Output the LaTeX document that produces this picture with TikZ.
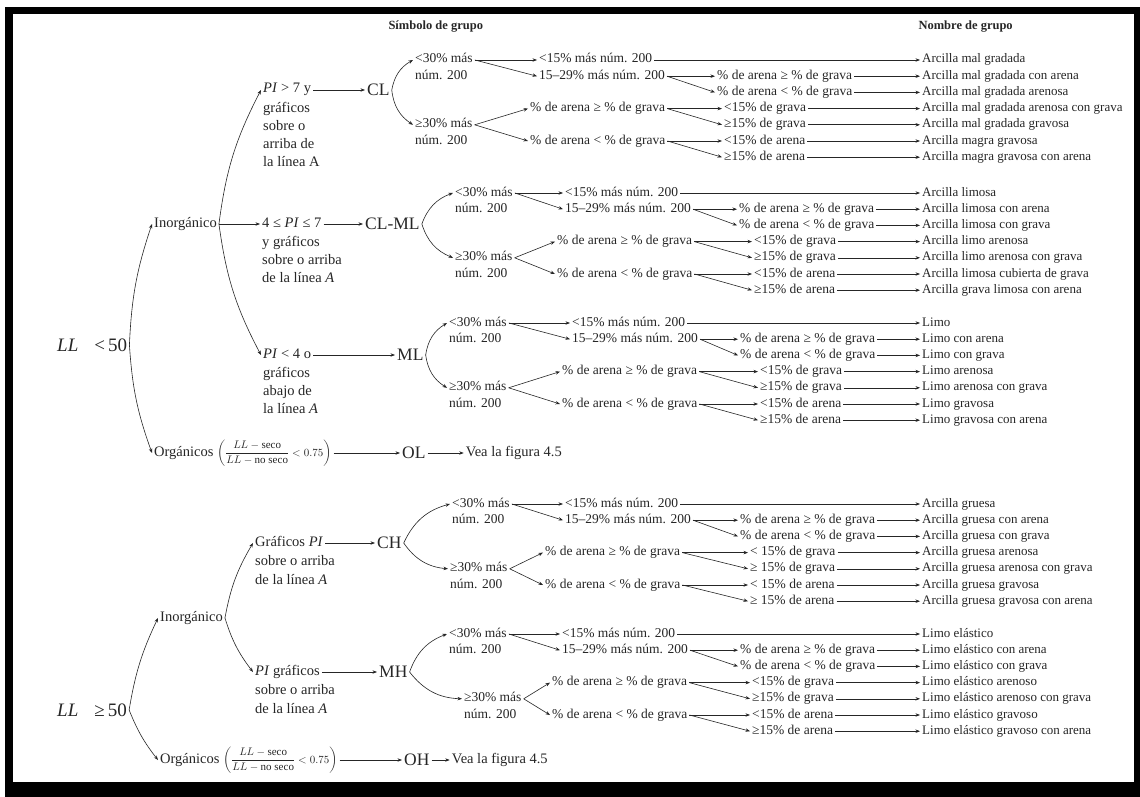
\documentclass[tikz,border=0pt]{standalone}
\usepackage{amsmath}
\usepackage{fontspec}
\setmainfont{Liberation Serif}
\usepackage{tikz}
\usetikzlibrary{arrows.meta,positioning}

\tikzset{
  txt/.style={font=\fontsize{13.5}{16}\selectfont, text=black!85, anchor=west, inner sep=2pt, text height=9pt, text depth=3pt},
  blatt/.style={txt, font=\fontsize{13}{15}\selectfont},
  lab/.style={txt, font=\fontsize{14.5}{17}\selectfont},
  block/.style={font=\fontsize{14.5}{18}\selectfont, text=black!85, anchor=north west, inner sep=2pt, align=left},
  symb/.style={font=\fontsize{17.5}{20}\selectfont, text=black!85, anchor=west, inner sep=2pt},
  kopf/.style={font=\fontsize{12.5}{15}\selectfont\bfseries, text=black!85, anchor=west},
  pfeil/.style={draw=black!85, line width=0.6pt, -{Stealth[length=4.5pt,width=3.4pt]}}
}

% Zeilenabstand der Gruppennamen
\newcommand{\za}{16.2}
\newcommand{\abst}{}
% Bruch fuer die organischen Boeden
\newcommand{\bruch}{{\fontsize{11}{13}\selectfont$\left(\dfrac{LL-\text{seco}}{LL-\text{no seco}}<0.75\right)$}}

% Teilbaum einer Gruppe: Name, y erste Zeile, x Stufe 1 oben/unten, x Stufe 2 oben/unten, x Stufe 3 oben/unten, Zeile >=30%
\newcommand{\gruppe}[9]{%
  % erste Stufe
  \node[txt] (#1-a) at (#3,-#2) {<30\% más};
  \node[txt] (#1-a2) at (#3,{-#2-\za}) {núm. 200};
  \node[txt] (#1-b) at (#4,{-#2-#9*\za}) {≥30\% más};
  \node[txt] (#1-b2) at (#4,{-#2-(#9+1)*\za}) {núm. 200};
  % zweite Stufe
  \node[txt] (#1-c0) at (#5,-#2) {<15\% más núm. 200};
  \node[txt] (#1-c1) at (#5,{-#2-\za}) {15--29\% más núm. 200};
  \node[txt] (#1-c3) at (#6,{-#2-3*\za}) {\% de arena ≥ \% de grava};
  \node[txt] (#1-c5) at (#6,{-#2-5*\za}) {\% de arena < \% de grava};
  % dritte Stufe
  \node[txt] (#1-d1) at (#7,{-#2-\za}) {\% de arena ≥ \% de grava};
  \node[txt] (#1-d2) at (#7,{-#2-2*\za}) {\% de arena < \% de grava};
  \node[txt] (#1-d3) at (#8,{-#2-3*\za}) {<\abst 15\% de grava};
  \node[txt] (#1-d4) at (#8,{-#2-4*\za}) {≥\abst 15\% de grava};
  \node[txt] (#1-d5) at (#8,{-#2-5*\za}) {<\abst 15\% de arena};
  \node[txt] (#1-d6) at (#8,{-#2-6*\za}) {≥\abst 15\% de arena};
  % Klammer am Symbol
  \draw[pfeil] (#1.east) to[bend left=25] (#1-a.west);
  \draw[pfeil] (#1.east) to[bend right=25] (#1-b.west);
  % Verzweigungen
  \draw[pfeil] (#1-a.east) -- (#1-c0.west);
  \draw[pfeil] (#1-a.east) -- (#1-c1.west);
  \draw[pfeil] (#1-c1.east) -- (#1-d1.west);
  \draw[pfeil] (#1-c1.east) -- (#1-d2.west);
  \draw[pfeil] (#1-b.east) -- (#1-c3.west);
  \draw[pfeil] (#1-b.east) -- (#1-c5.west);
  \draw[pfeil] (#1-c3.east) -- (#1-d3.west);
  \draw[pfeil] (#1-c3.east) -- (#1-d4.west);
  \draw[pfeil] (#1-c5.east) -- (#1-d5.west);
  \draw[pfeil] (#1-c5.east) -- (#1-d6.west);
  % Pfeile zu den Gruppennamen
  \draw[pfeil] (#1-c0.east) -- (#1-n0.west);
  \draw[pfeil] (#1-d1.east) -- (#1-n1.west);
  \draw[pfeil] (#1-d2.east) -- (#1-n2.west);
  \draw[pfeil] (#1-d3.east) -- (#1-n3.west);
  \draw[pfeil] (#1-d4.east) -- (#1-n4.west);
  \draw[pfeil] (#1-d5.east) -- (#1-n5.west);
  \draw[pfeil] (#1-d6.east) -- (#1-n6.west);
}

\begin{document}
\begin{tikzpicture}[x=1pt,y=1pt]
    % Rahmen
    \useasboundingbox (0,0) rectangle (1140,-797);
    \fill[white] (0,0) rectangle (1140,-797);
    \fill[black] (5,-7) rectangle (1140,-797);
    \fill[white] (13,-14) rectangle (1134,-782);

    % Kopfzeile
    \node[kopf] (kopf1) at (385,-27) {Símbolo de grupo};
    \node[kopf] (kopf2) at (915,-27) {Nombre de grupo};

    % Wurzel LL < 50
    \node[symb, font=\fontsize{19}{22}\selectfont] (ll1) at (55,-345) {\textit{LL}\hspace{16pt}<\,50};
    \node[lab] (ino1) at (152,-224) {Inorgánico};
    \node[lab] (org1) at (152,-453) {Orgánicos \bruch};
    \draw[pfeil] (ll1.east) to[bend left=8] (ino1.west);
    \draw[pfeil] (ll1.east) to[bend right=8] (org1.west);

    % Bedingungen fuer PI
    \node[lab] (pi1) at (261,-90) {\textit{PI} > 7 y};
    \node[block] (pi1b) at ([yshift=-2pt]pi1.south west) {gráficos\\sobre o\\arriba de\\la línea A};
    \node[lab] (pi2) at (260,-224) {4 ≤ \textit{PI} ≤ 7};
    \node[block] (pi2b) at ([yshift=-2pt]pi2.south west) {y gráficos\\sobre o arriba\\de la línea \textit{A}};
    \node[lab] (pi3) at (261,-355) {\textit{PI} < 4 o};
    \node[block] (pi3b) at ([yshift=-2pt]pi3.south west) {gráficos\\abajo de\\la línea \textit{A}};
    \draw[pfeil] (ino1.east) to[bend left=10] (pi1.west);
    \draw[pfeil] (ino1.east) -- (pi2.west);
    \draw[pfeil] (ino1.east) to[bend right=10] (pi3.west);

    % Gruppensymbole
    \node[symb] (cl) at (365,-90) {CL};
    \node[symb] (clml) at (363,-224) {CL-ML};
    \node[symb] (ml) at (395,-355) {ML};
    \node[symb] (ol) at (400,-453) {OL};
    \node[lab, right=36pt of ol] (vea1) {Vea la figura 4.5};
    \draw[pfeil] (pi1.east) -- (cl.west);
    \draw[pfeil] (pi2.east) -- (clml.west);
    \draw[pfeil] (pi3.east) -- (ml.west);
    \draw[pfeil] (org1.east) -- (ol.west);
    \draw[pfeil] (ol.east) -- (vea1.west);

    % Gruppennamen CL
    \foreach \leaf [count=\i from 0] in {Arcilla mal gradada, Arcilla mal gradada con arena, Arcilla mal gradada arenosa, Arcilla mal gradada arenosa con grava, Arcilla mal gradada gravosa, Arcilla magra gravosa, Arcilla magra gravosa con arena}
      \node[blatt] (cl-n\i) at (920,{-60-\i*\za}) {\leaf};
    \gruppe{cl}{60}{413}{413}{537}{528}{715}{722}{4}

    % Gruppennamen CL-ML
    \foreach \leaf [count=\i from 0] in {Arcilla limosa, Arcilla limosa con arena, Arcilla limosa con grava, Arcilla limo arenosa, Arcilla limo arenosa con grava, Arcilla limosa cubierta de grava, Arcilla grava limosa con arena}
      \node[blatt] (clml-n\i) at (920,{-193-\i*\za}) {\leaf};
    \gruppe{clml}{193}{453}{453}{563}{555}{737}{752}{4}

    % Gruppennamen ML
    \foreach \leaf [count=\i from 0] in {Limo, Limo con arena, Limo con grava, Limo arenosa, Limo arenosa con grava, Limo gravosa, Limo gravosa con arena}
      \node[blatt] (ml-n\i) at (920,{-323-\i*\za}) {\leaf};
    \gruppe{ml}{323}{447}{447}{570}{560}{738}{758}{4}

    % Wurzel LL >= 50
    \node[symb, font=\fontsize{19}{22}\selectfont] (ll2) at (55,-710) {\textit{LL}\hspace{16pt}≥\,50};
    \node[lab] (ino2) at (158,-618) {Inorgánico};
    \node[lab] (org2) at (158,-760) {Orgánicos \bruch};
    \draw[pfeil] (ll2.east) to[bend left=8] (ino2.west);
    \draw[pfeil] (ll2.east) to[bend right=8] (org2.west);

    \node[lab] (pi4) at (253,-543) {Gráficos \textit{PI}};
    \node[block, font=\fontsize{14.5}{19.5}\selectfont] (pi4b) at ([yshift=-2pt]pi4.south west) {sobre o arriba\\de la línea \textit{A}};
    \node[lab] (pi5) at (253,-672) {\textit{PI} gráficos};
    \node[block, font=\fontsize{14.5}{19.5}\selectfont] (pi5b) at ([yshift=-2pt]pi5.south west) {sobre o arriba\\de la línea \textit{A}};
    \draw[pfeil] (ino2.east) to[bend left=10] (pi4.west);
    \draw[pfeil] (ino2.east) to[bend right=10] (pi5.west);

    \node[symb] (ch) at (375,-543) {CH};
    \node[symb] (mh) at (377,-672) {MH};
    \node[symb] (oh) at (402,-760) {OH};
    \node[lab, right=18pt of oh] (vea2) {Vea la figura 4.5};
    \draw[pfeil] (pi4.east) -- (ch.west);
    \draw[pfeil] (pi5.east) -- (mh.west);
    \draw[pfeil] (org2.east) -- (oh.west);
    \draw[pfeil] (oh.east) -- (vea2.west);

    % Gruppennamen CH
    \foreach \leaf [count=\i from 0] in {Arcilla gruesa, Arcilla gruesa con arena, Arcilla gruesa con grava, Arcilla gruesa arenosa, Arcilla gruesa arenosa con grava, Arcilla gruesa gravosa, Arcilla gruesa gravosa con arena}
      \node[blatt] (ch-n\i) at (920,{-504-\i*\za}) {\leaf};
    \renewcommand{\abst}{\ }
    \gruppe{ch}{504}{450}{448}{563}{543}{738}{748}{4}
    \renewcommand{\abst}{}

    % Gruppennamen MH
    \foreach \leaf [count=\i from 0] in {Limo elástico, Limo elástico con arena, Limo elástico con grava, Limo elástico arenoso, Limo elástico arenoso con grava, Limo elástico gravoso, Limo elástico gravoso con arena}
      \node[blatt] (mh-n\i) at (920,{-634-\i*\za}) {\leaf};
    \gruppe{mh}{634}{447}{462}{560}{550}{738}{750}{4}
\end{tikzpicture}
\end{document}
